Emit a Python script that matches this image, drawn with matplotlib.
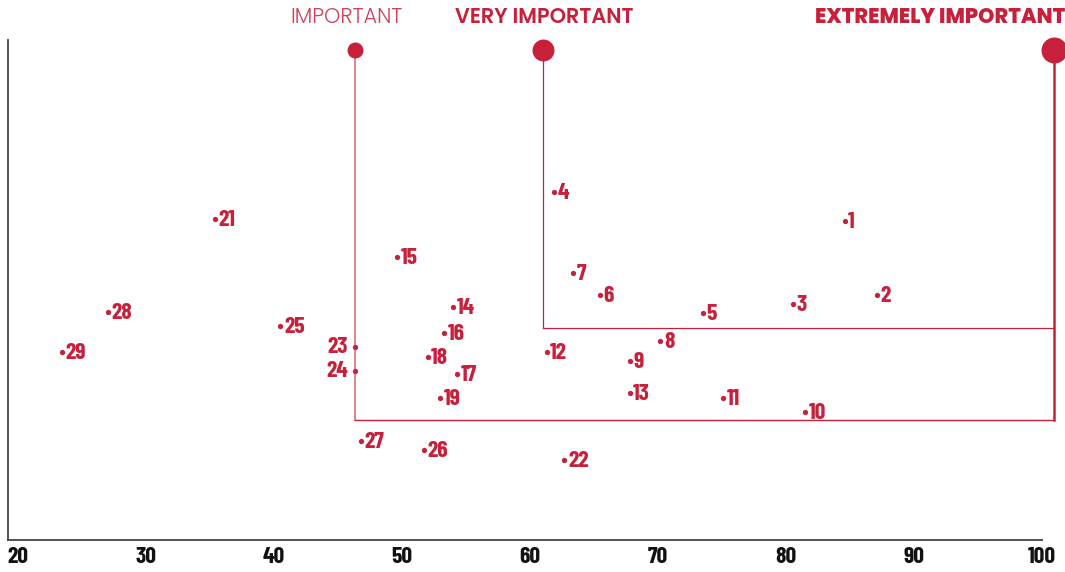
import matplotlib.pyplot as plt

# punti: id, x (valore), y (posizione relativa)
ids = [1, 2, 3, 4, 5, 6, 7, 8, 9, 10, 11, 12, 13, 14, 15, 16, 17, 18, 19,
       21, 22, 23, 24, 25, 26, 27, 28, 29]
xs = [84.6, 87.1, 80.6, 61.9, 73.5, 65.5, 63.4, 70.2, 67.8, 81.5, 75.1, 61.3, 67.8,
      54.0, 49.6, 53.3, 54.3, 52.0, 53.0, 35.4, 62.7, 46.3, 46.3, 40.5, 51.7, 46.8,
      27.0, 23.4]
ys = [63.8, 49.0, 47.2, 69.6, 45.4, 49.0, 53.4, 39.8, 35.8, 25.6, 28.4, 37.6, 29.4,
      46.6, 56.6, 41.4, 33.2, 36.6, 28.4, 64.2, 16.0, 38.6, 33.8, 42.8, 18.0, 19.8,
      45.6, 37.6]
left_labels = [23, 24]

# soglie
levels = ["IMPORTANT", "VERY IMPORTANT", "EXTREMELY IMPORTANT"]
level_x = [46.3, 61.0, 101.0]
level_floor = [24.0, 42.4, 24.0]
top_y = 98.0

RED = "#C8203A"
PINK = "#E0808F"
NUM_FONT = ["Barlow Condensed", "DejaVu Sans"]
HEAD_FONT = ["Poppins", "Roboto", "DejaVu Sans"]

fig = plt.figure(figsize=(10.65, 5.72), dpi=100)
ax = fig.add_axes([0.0075, 0.056, 0.9705, 0.874])
ax.set_xlim(19.2, 100)
ax.set_ylim(0, 100)

# linee delle soglie
ax.plot([level_x[0], level_x[0]], [level_floor[0], top_y], color=PINK, lw=1.4, clip_on=False)
ax.plot([level_x[0], level_x[2]], [level_floor[0], level_floor[0]], color=RED, lw=1.0, clip_on=False)
ax.plot([level_x[1], level_x[1]], [level_floor[1], top_y], color=RED, lw=0.9, clip_on=False)
ax.plot([level_x[1], level_x[2]], [level_floor[1], level_floor[1]], color=RED, lw=0.9, clip_on=False)
ax.plot([level_x[2], level_x[2]], [level_floor[2], top_y], color=RED, lw=1.8, clip_on=False)

sizes = [11.5, 15.8, 18.7]
for lx, ms in zip(level_x, sizes):
    ax.plot(lx, top_y, "o", ms=ms, color=RED, mec="none", clip_on=False, zorder=5)

fig.text(346 / 1065, 1 - 18 / 572, levels[0], color=RED, fontsize=15, family=HEAD_FONT,
         weight=300, ha="center", va="center", alpha=0.85)
fig.text(544 / 1065, 1 - 18 / 572, levels[1], color=RED, fontsize=15, family=HEAD_FONT,
         weight=600, ha="center", va="center")
fig.text(1.0, 1 - 18 / 572, levels[2], color=RED, fontsize=15, family=HEAD_FONT,
         weight=800, ha="right", va="center")

# punti
ax.plot(xs, ys, "o", ms=3.8, color=RED, mec="none", zorder=4)
for i, x, y in zip(ids, xs, ys):
    if i in left_labels:
        ax.annotate(str(i), (x, y), xytext=(-5, 0), textcoords="offset points",
                    ha="right", va="center", color=RED, fontsize=17, weight=700,
                    family=NUM_FONT)
    else:
        ax.annotate(str(i), (x, y), xytext=(2.5, -0.5), textcoords="offset points",
                    ha="left", va="center", color=RED, fontsize=17, weight=700,
                    family=NUM_FONT)

for s in ["top", "right"]:
    ax.spines[s].set_visible(False)
ax.spines["left"].set_color("#444444")
ax.spines["bottom"].set_color("#444444")
ax.spines["left"].set_linewidth(1.3)
ax.spines["bottom"].set_linewidth(1.3)
ax.set_yticks([])
ax.set_xticks(range(20, 101, 10))
ax.tick_params(axis="x", length=0, pad=5)
for lab in ax.get_xticklabels():
    lab.set_family(NUM_FONT)
    lab.set_fontsize(17)
    lab.set_weight(700)
    lab.set_color("#111111")

fig.savefig("out.png", dpi=100)
